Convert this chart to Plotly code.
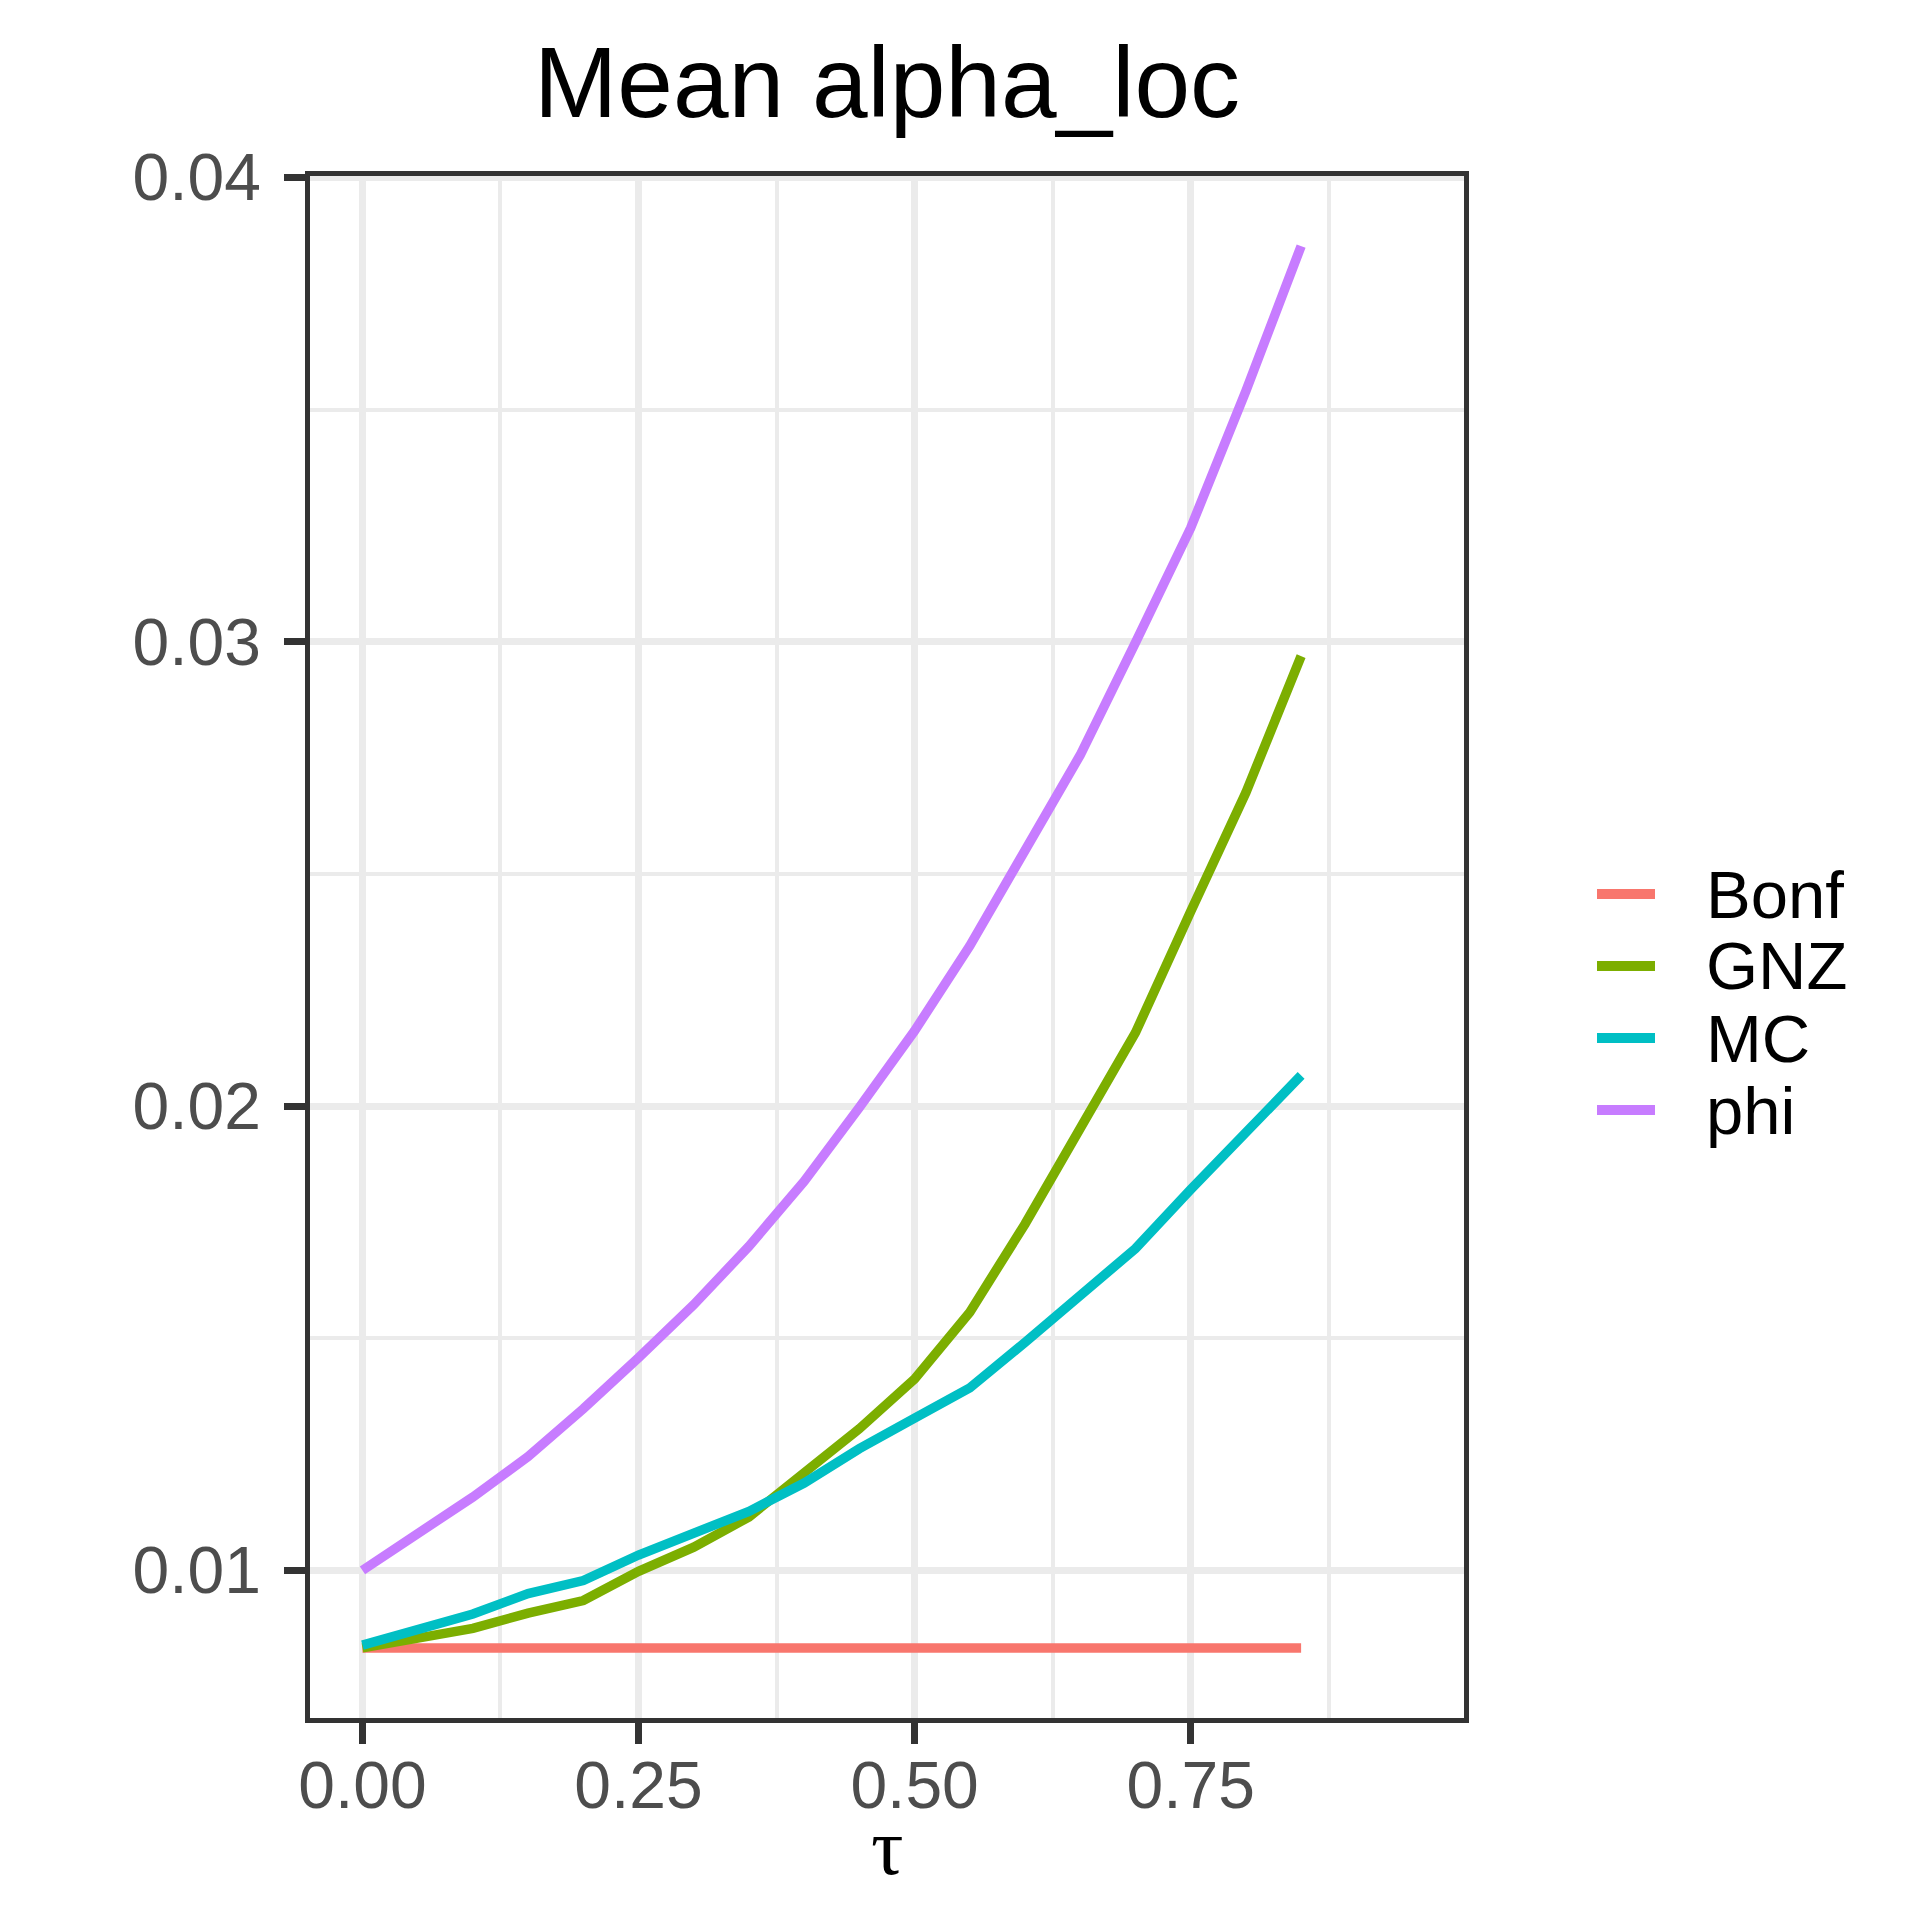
import plotly.graph_objects as go

# tau grid and mean alpha_loc per method
tau = [0.00, 0.05, 0.10, 0.15, 0.20, 0.25, 0.30, 0.35, 0.40,
       0.45, 0.50, 0.55, 0.60, 0.65, 0.70, 0.75, 0.80, 0.85]

bonf = [0.00833] * 18
gnz = [0.00833, 0.00853, 0.00875, 0.00908, 0.00935, 0.00998, 0.01050, 0.01115, 0.01210,
       0.01305, 0.01412, 0.01556, 0.01746, 0.01950, 0.02158, 0.02419, 0.02675, 0.02969]
mc = [0.00839, 0.00871, 0.00906, 0.00950, 0.00978, 0.01033, 0.01078, 0.01127, 0.01188,
      0.01262, 0.01328, 0.01393, 0.01491, 0.01592, 0.01693, 0.01820, 0.01944, 0.02066]
phi = [0.01000, 0.01078, 0.01158, 0.01245, 0.01348, 0.01458, 0.01572, 0.01698, 0.01838,
       0.01997, 0.02162, 0.02345, 0.02546, 0.02756, 0.02998, 0.03245, 0.03540, 0.03852]

methods = ['Bonf', 'GNZ', 'MC', 'phi']
values = [bonf, gnz, mc, phi]
colors = ['#F8766D', '#7CAE00', '#00BFC4', '#C77CFF']

# plot panel in pixels (1920 x 1920 canvas)
L, R, T, B = 302, 1456, 168, 1710
W, H = R - L, B - T


def px_x(p):
    return (p - L) / W


def px_y(p):
    return (B - p) / H


fig = go.Figure()
for name, ys, col in zip(methods, values, colors):
    fig.add_trace(go.Scatter(x=tau, y=ys, name=name, mode='lines',
                             line=dict(color=col, width=9.5),
                             showlegend=False))

# legend drawn like ggplot's (keys + labels to the right of the panel)
for i, (name, col) in enumerate(zip(methods, colors)):
    yc = 886 + i * 72
    fig.add_shape(type='line', xref='paper', yref='paper',
                  x0=px_x(1589), x1=px_x(1647), y0=px_y(yc), y1=px_y(yc),
                  line=dict(color=col, width=10))
    fig.add_annotation(text=name, xref='paper', yref='paper',
                       x=px_x(1696), y=px_y(yc), xanchor='left', yanchor='middle',
                       showarrow=False,
                       font=dict(family='Liberation Sans, Arial', size=67, color='black'))

# x axis title (tau), placed under the tick labels
fig.add_annotation(text='τ', xref='paper', yref='paper', x=0.5, y=px_y(1839),
                   xanchor='center', yanchor='middle', showarrow=False,
                   font=dict(family='Liberation Serif, Times New Roman', size=81, color='black'))

axis_common = dict(
    showline=True, mirror=True, linecolor='#333333', linewidth=4.5,
    ticks='outside', ticklen=21, tickwidth=7, tickcolor='#333333',
    tickfont=dict(family='Liberation Sans, Arial', size=66, color='#4D4D4D'),
    showgrid=True, gridcolor='#EBEBEB', gridwidth=7, zeroline=False,
)

fig.update_xaxes(
    range=[-0.0475, 0.9975], tick0=0, dtick=0.25, tickformat='.2f',
    minor=dict(dtick=0.125, tick0=0, showgrid=True, gridcolor='#EBEBEB', gridwidth=4, ticks=''),
    ticklabelstandoff=-15,
    **axis_common
)
fig.update_yaxes(
    range=[0.00682, 0.04003], tick0=0, dtick=0.01, tickformat='.2f',
    minor=dict(dtick=0.005, tick0=0, showgrid=True, gridcolor='#EBEBEB', gridwidth=4, ticks=''),
    ticklabelstandoff=10,
    **axis_common
)

fig.update_layout(
    width=1920, height=1920,
    margin=dict(l=L, r=1920 - R, t=T, b=1920 - B),
    plot_bgcolor='white', paper_bgcolor='white',
    title=dict(text='Mean alpha_loc', x=0.5, xref='paper', xanchor='center',
               y=1 - 74 / 1920, yref='container', yanchor='middle',
               font=dict(family='Liberation Sans, Arial', size=100, color='black')),
)

fig.write_html('out.html')
